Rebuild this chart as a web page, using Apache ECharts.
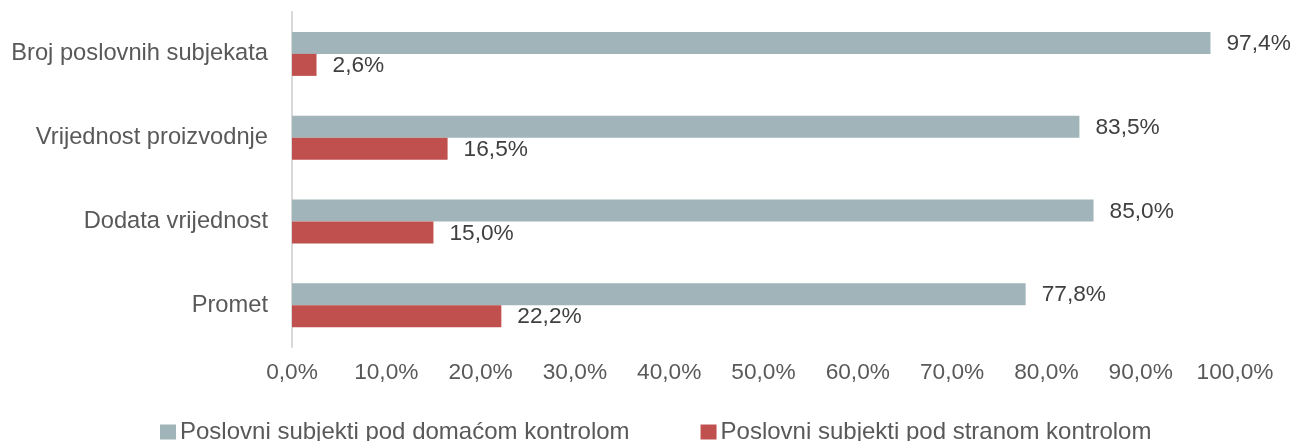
<!DOCTYPE html>
<html>
<head>
<meta charset="utf-8">
<script src="https://cdn.jsdelivr.net/npm/echarts@6/dist/echarts.min.js"></script>
<style>
  html, body { margin: 0; padding: 0; background: #fff; }
  #chart { width: 1295px; height: 441px; }
</style>
</head>
<body>
<div id="chart"></div>
<script>
var categories = ['Broj poslovnih subjekata', 'Vrijednost proizvodnje', 'Dodata vrijednost', 'Promet'];
var seriesNames = ['Poslovni subjekti pod domaćom kontrolom', 'Poslovni subjekti pod stranom kontrolom'];
var domestic = [97.4, 83.5, 85.0, 77.8];
var foreign = [2.6, 16.5, 15.0, 22.2];
var xTicks = [0, 10, 20, 30, 40, 50, 60, 70, 80, 90, 100];

function pct(v) {
    return v.toFixed(1).replace('.', ',') + '%';
}

var myChart = echarts.init(document.getElementById('chart'));

var option = {
    animation: false,
    textStyle: { fontFamily: 'Liberation Sans, Arial, sans-serif' },
    grid: {
        left: 292,
        right: 60,
        top: 12,
        bottom: 94
    },
    legend: {
        left: 155,
        top: 415,
        icon: 'rect',
        itemWidth: 16,
        itemHeight: 15,
        itemGap: 71,
        textStyle: { fontSize: 24, color: '#595959', padding: [0, 0, 0, -1] },
        data: seriesNames
    },
    xAxis: {
        type: 'value',
        min: xTicks[0],
        max: xTicks[xTicks.length - 1],
        interval: 10,
        axisLine: { show: false },
        axisTick: { show: false },
        splitLine: { show: false },
        axisLabel: {
            fontSize: 22.7,
            color: '#595959',
            margin: 14,
            formatter: function (v) { return pct(v); }
        }
    },
    yAxis: {
        type: 'category',
        inverse: true,
        data: categories,
        axisLine: { show: true, lineStyle: { color: '#d9d9d9', width: 2 } },
        axisTick: { show: false },
        axisLabel: { fontSize: 23.7, color: '#595959', margin: 24 }
    },
    series: [
        {
            name: seriesNames[0],
            type: 'bar',
            data: domestic,
            barWidth: 22,
            barGap: '0%',
            itemStyle: { color: '#a1b4ba' },
            label: {
                show: true,
                position: 'right',
                distance: 16,
                offset: [0, 1],
                fontSize: 22.7,
                color: '#404040',
                formatter: function (p) { return pct(p.value); }
            }
        },
        {
            name: seriesNames[1],
            type: 'bar',
            data: foreign,
            barWidth: 22,
            barGap: '0%',
            itemStyle: { color: '#c0504d' },
            label: {
                show: true,
                position: 'right',
                distance: 16,
                offset: [0, 1],
                fontSize: 22.7,
                color: '#404040',
                formatter: function (p) { return pct(p.value); }
            }
        }
    ]
};

myChart.setOption(option);
</script>
</body>
</html>
